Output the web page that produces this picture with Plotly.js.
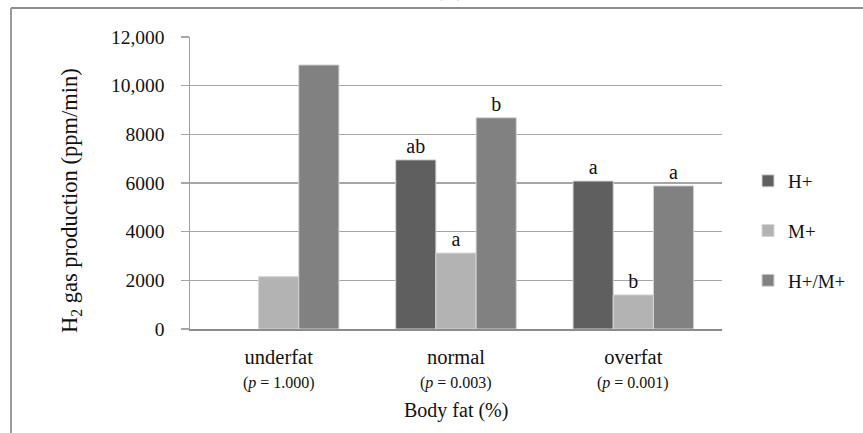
<!DOCTYPE html>
<html>
<head>
<meta charset="utf-8">
<script src="https://cdn.plot.ly/plotly-3.0.1.min.js"></script>
<style>
  html, body { margin: 0; padding: 0; background: #fff; }
  #chart { width: 863px; height: 433px; }
</style>
</head>
<body>
<div id="chart"></div>
<script>
const categories = ['underfat', 'normal', 'overfat'];
const pLabels = ['(<i>p</i> = 1.000)', '(<i>p</i> = 0.003)', '(<i>p</i> = 0.001)'];
const seriesNames = ['H+', 'M+', 'H+/M+'];
const hPlus = [null, 6950, 6080];
const mPlus = [2150, 3120, 1400];
const hmPlus = [10850, 8680, 5880];
const hPlusLetters = ['', 'ab', 'a'];
const mPlusLetters = ['', 'a', 'b'];
const hmPlusLetters = ['', 'b', 'a'];
const yTickVals = [0, 2000, 4000, 6000, 8000, 10000, 12000];
const yTickText = ['0', '2000', '4000', '6000', '8000', '10,000', '12,000'];

const FONT = 'Liberation Serif, Times New Roman, serif';
const colors = ['#5f5f5f', '#b3b3b3', '#818181'];
const seriesVals = [hPlus, mPlus, hmPlus];
const seriesText = [hPlusLetters, mPlusLetters, hmPlusLetters];

// plot area in pixels
const L = 190, R = 722, T = 37, B = 329;
const W = 863, H = 433;
const px = x => (x - L) / (R - L);
const py = y => (B - y) / (B - T);

const traces = seriesNames.map((name, i) => ({
  type: 'bar',
  name: name,
  x: categories,
  y: seriesVals[i],
  text: seriesText[i],
  textposition: 'outside',
  cliponaxis: false,
  textfont: { family: FONT, size: 20, color: '#111' },
  marker: { color: colors[i], line: { color: '#d4d4d4', width: 1 } },
  legendgroup: 'g' + i,
  hoverinfo: 'none'
}));

const annotations = categories.map((c, i) => ({
  x: c, xref: 'x', y: py(383), yref: 'paper',
  text: pLabels[i], showarrow: false,
  font: { family: FONT, size: 16, color: '#111' },
  xanchor: 'center', yanchor: 'middle'
}));
annotations.push({
  x: 0.5, xref: 'paper', y: py(410), yref: 'paper',
  text: 'Body fat (%)', showarrow: false,
  font: { family: FONT, size: 20, color: '#111' },
  xanchor: 'center', yanchor: 'middle'
});
annotations.push({
  x: px(71), xref: 'paper', y: py(201), yref: 'paper',
  text: 'H<sub>2</sub> gas production (ppm/min)', showarrow: false, textangle: -90,
  font: { family: FONT, size: 22.5, color: '#111' },
  xanchor: 'center', yanchor: 'middle'
});
annotations.push({
  x: px(449), xref: 'paper', y: py(3), yref: 'paper',
  text: '(B)', showarrow: false,
  font: { family: FONT, size: 22, color: '#111' },
  xanchor: 'center', yanchor: 'bottom'
});

const shapes = [
  { type: 'line', xref: 'paper', yref: 'paper', x0: px(11), x1: px(W + 5), y0: py(8), y1: py(8),
    line: { color: '#8c8c8c', width: 2 } },
  { type: 'line', xref: 'paper', yref: 'paper', x0: px(11), x1: px(11), y0: py(8), y1: py(H + 5),
    line: { color: '#9a9a9a', width: 2 } }
];

const layout = {
  width: W, height: H,
  margin: { l: L, r: W - R, t: T, b: H - B, pad: 0, autoexpand: false },
  paper_bgcolor: '#fff', plot_bgcolor: '#fff',
  font: { family: FONT, color: '#111' },
  barmode: 'group', bargap: 0.32, bargroupgap: 0,
  showlegend: true,
  legend: {
    xref: 'container', yref: 'container',
    x: 748 / W, xanchor: 'left', y: 1 - 231 / H, yanchor: 'middle',
    traceorder: 'grouped', tracegroupgap: 22,
    font: { family: FONT, size: 19, color: '#111' },
    itemwidth: 30, bgcolor: 'rgba(0,0,0,0)'
  },
  xaxis: {
    type: 'category', showgrid: false, zeroline: false,
    showline: true, linecolor: '#8c8c8c', linewidth: 2,
    ticks: '', tickfont: { family: FONT, size: 20.5, color: '#111' },
    ticklabelstandoff: 8, fixedrange: true, automargin: false
  },
  yaxis: {
    range: [0, 12000], tickvals: yTickVals, ticktext: yTickText,
    showgrid: true, gridcolor: '#a6a6a6', gridwidth: 1.5,
    zeroline: false, showline: true, linecolor: '#a0a0a0', linewidth: 1.5,
    ticks: 'outside', ticklen: 8, tickcolor: '#a6a6a6', tickwidth: 1.5,
    tickfont: { family: FONT, size: 19.5, color: '#111' },
    ticklabelstandoff: 12, fixedrange: true, automargin: false
  },
  annotations: annotations,
  shapes: shapes
};

Plotly.newPlot('chart', traces, layout, { staticPlot: true, displayModeBar: false });
</script>
</body>
</html>
